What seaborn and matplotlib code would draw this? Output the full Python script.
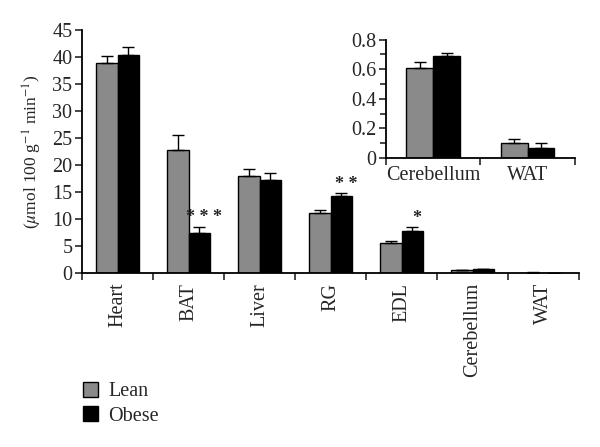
import numpy as np
import pandas as pd
import matplotlib
matplotlib.use("Agg")
import matplotlib.pyplot as plt
from matplotlib.patches import Patch
import seaborn as sns

tissues = ["Heart", "BAT", "Liver", "RG", "EDL", "Cerebellum", "WAT"]
lean = [38.9, 22.7, 17.9, 11.2, 5.5, 0.61, 0.10]
obese = [40.3, 7.4, 17.2, 14.3, 7.8, 0.69, 0.07]
lean_err = [1.3, 2.8, 1.4, 0.5, 0.5, 0.04, 0.03]
obese_err = [1.6, 1.2, 1.3, 0.5, 0.7, 0.02, 0.03]
signif = ["", "***", "", "**", "*", "", ""]

inset_tissues = ["Cerebellum", "WAT"]
groups = ["Lean", "Obese"]
colors = {"Lean": "#8a8a8a", "Obese": "#000000"}

df = pd.DataFrame({
    "tissue": tissues * 2,
    "group": ["Lean"] * len(tissues) + ["Obese"] * len(tissues),
    "value": lean + obese,
    "err": lean_err + obese_err,
})
dfi = df[df["tissue"].isin(inset_tissues)]

sns.set_style("ticks")
plt.rcParams["font.family"] = ["Liberation Serif", "DejaVu Serif"]
plt.rcParams["mathtext.fontset"] = "stix"
plt.rcParams["font.size"] = 14

FS = 14.5

fig = plt.figure(figsize=(6.0, 4.47), dpi=100)
ax = fig.add_axes([0.137, 0.389, 0.828, 0.544])
axi = fig.add_axes([0.643, 0.6465, 0.315, 0.265])


def draw(a, data, order, width):
    sns.barplot(data=data, x="tissue", y="value", hue="group", order=order,
                hue_order=groups, palette=colors, width=width, errorbar=None,
                edgecolor="black", linewidth=1.0, ax=a, legend=False, saturation=1)
    for gi, g in enumerate(groups):
        cont = a.containers[gi]
        sub = data[data["group"] == g].set_index("tissue").loc[order]
        for patch, (_, row) in zip(cont.patches, sub.iterrows()):
            xc = patch.get_x() + patch.get_width() / 2
            a.errorbar(xc, row["value"], yerr=[[0], [row["err"]]], fmt="none",
                       ecolor="black", elinewidth=1.0, capsize=4, capthick=1.0)
    n = len(order)
    a.set_xlim(-0.5, n - 0.5)
    a.set_xticks(np.arange(n + 1) - 0.5)
    a.set_xticklabels([])
    a.set_xticks(np.arange(n), minor=True)
    a.tick_params(axis="x", which="major", length=5, width=1.2, direction="out")
    a.tick_params(axis="x", which="minor", length=0)
    a.set_xlabel("")
    a.set_ylabel("")
    for s in ["top", "right"]:
        a.spines[s].set_visible(False)
    for s in ["left", "bottom"]:
        a.spines[s].set_linewidth(1.3)
        a.spines[s].set_color("black")


draw(ax, df, tissues, 0.6)
ax.set_ylim(0, 45)
ax.set_yticks(np.arange(0, 46, 5))
ax.tick_params(axis="y", length=5, width=1.2, labelsize=FS, pad=2)
ax.set_xticklabels(tissues, minor=True, rotation=90, fontsize=FS, va="top")
ax.tick_params(axis="x", which="minor", pad=7)
ax.set_ylabel(r"($\mu$mol 100 g$^{-1}$ min$^{-1}$)", fontsize=12.5, labelpad=6)

ob_patches = ax.containers[1].patches
for patch, s, v, e in zip(ob_patches, signif, obese, obese_err):
    if s:
        ax.text(patch.get_x() + patch.get_width() / 2 + 0.07, v + e + 0.1, " ".join(s),
                ha="center", va="bottom", fontsize=13, fontweight="bold")

draw(axi, dfi, inset_tissues, 0.57)
axi.set_ylim(0, 0.8)
axi.set_yticks([0, 0.2, 0.4, 0.6, 0.8])
axi.set_yticklabels(["0", "0.2", "0.4", "0.6", "0.8"])
axi.set_yticks(np.arange(0.1, 0.8, 0.2), minor=True)
axi.tick_params(axis="y", which="major", length=5, width=1.2, labelsize=FS, pad=2)
axi.tick_params(axis="y", which="minor", length=4, width=1.2)
axi.set_xticklabels(inset_tissues, minor=True, fontsize=FS)
axi.tick_params(axis="x", which="minor", pad=6)
axi.patch.set_alpha(0)

handles = [Patch(facecolor=colors[g], edgecolor="black", linewidth=1.0) for g in groups]
fig.legend(handles, groups, loc="upper left", bbox_to_anchor=(0.112, 0.182),
           frameon=False, fontsize=FS, handlelength=0.75, handleheight=0.75,
           handletextpad=0.5, labelspacing=0.25, borderpad=0.3)

fig.savefig("out.png", dpi=100)
